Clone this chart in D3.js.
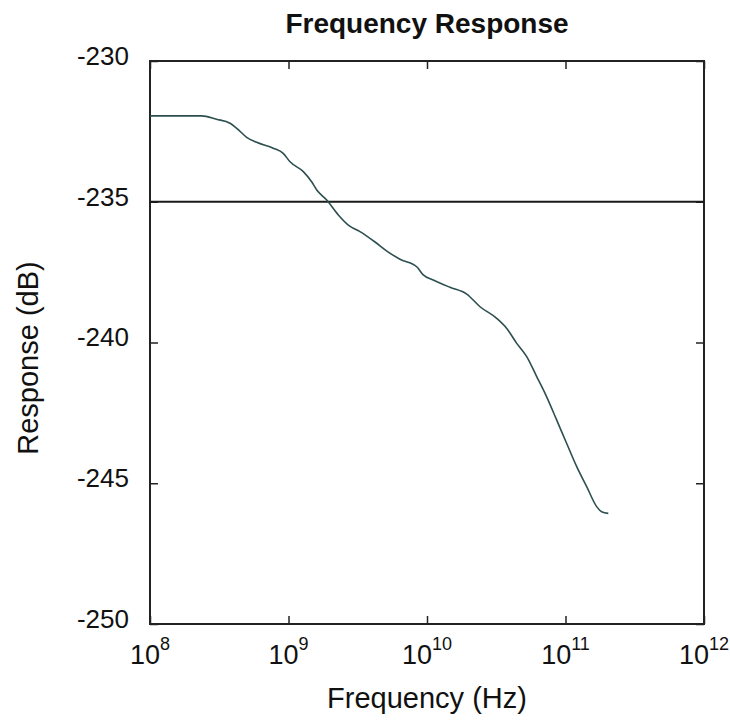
<!DOCTYPE html>
<html>
<head>
<meta charset="utf-8">
<script src="https://cdn.jsdelivr.net/npm/d3@7"></script>
<style>
	body { margin: 0; background: #fff; }
	text { font-family: "Liberation Sans", Arial, sans-serif; fill: #111; }
</style>
</head>
<body>
<div id="chart"></div>
<script>
// Chart size and margins
const width = 730;
const height = 727;
const margin = { top: 61, left: 150, right: 26, bottom: 103 };

// Data: log10 of frequency (Hz) and response (dB)
const logFreq = [8.0, 8.373, 8.48, 8.578, 8.626, 8.698, 8.77, 8.89, 8.962, 9.011, 9.107, 9.167, 9.204, 9.276,
	9.36, 9.432, 9.516, 9.625, 9.718, 9.805, 9.926, 9.973, 10.045, 10.166, 10.287, 10.383, 10.503, 10.576,
	10.648, 10.72, 10.792, 10.864, 10.936, 11.008, 11.081, 11.153, 11.225, 11.261, 11.309];
const responseDb = [-231.95, -231.95, -232.07, -232.21, -232.39, -232.71, -232.89, -233.10, -233.28, -233.58,
	-233.93, -234.29, -234.58, -234.94, -235.47, -235.83, -236.06, -236.43, -236.78, -237.04, -237.31, -237.60,
	-237.78, -238.04, -238.28, -238.73, -239.14, -239.50, -240.03, -240.50, -241.21, -241.93, -242.75, -243.58,
	-244.41, -245.12, -245.83, -246.01, -246.07];

// Reference level line
const thresholdDb = -235;

// Tick labels
const xTickExps = [8, 9, 10, 11, 12];
const yTicks = [-230, -235, -240, -245, -250];

const innerW = width - margin.left - margin.right;
const innerH = height - margin.top - margin.bottom;

const xScale = d3.scaleLog()
	.domain([1e8, 1e12])
	.range([0, innerW]);

const yScale = d3.scaleLinear()
	.domain([-250, -230])
	.range([innerH, 0]);

const svg = d3.select('#chart')
	.append('svg')
	.attr('width', width)
	.attr('height', height);

const g = svg.append('g')
	.attr('transform', `translate(${margin.left}, ${margin.top})`);

// Inward ticks on all four sides
const tickVals = xTickExps.map(e => Math.pow(10, e));
g.append('g')
	.attr('transform', `translate(0, ${innerH})`)
	.call(d3.axisTop(xScale).tickValues(tickVals).tickSize(8).tickFormat(''));
g.append('g')
	.call(d3.axisBottom(xScale).tickValues(tickVals).tickSize(8).tickFormat(''));
g.append('g')
	.call(d3.axisRight(yScale).tickValues(yTicks).tickSize(8).tickFormat(''));
g.append('g')
	.attr('transform', `translate(${innerW}, 0)`)
	.call(d3.axisLeft(yScale).tickValues(yTicks).tickSize(8).tickFormat(''));
g.selectAll('.domain').remove();
g.selectAll('.tick line').attr('stroke', '#222').attr('stroke-width', 1.5);

// Frame
g.append('rect')
	.attr('width', innerW)
	.attr('height', innerH)
	.attr('fill', 'none')
	.attr('stroke', '#222')
	.attr('stroke-width', 2);

// Threshold line
g.append('line')
	.attr('x1', 0)
	.attr('x2', innerW)
	.attr('y1', yScale(thresholdDb))
	.attr('y2', yScale(thresholdDb))
	.attr('stroke', '#1a1a1a')
	.attr('stroke-width', 2);

// Response curve
const points = logFreq.map((lf, i) => [Math.pow(10, lf), responseDb[i]]);
const line = d3.line()
	.x(d => xScale(d[0]))
	.y(d => yScale(d[1]))
	.curve(d3.curveMonotoneX);

g.append('path')
	.datum(points)
	.attr('fill', 'none')
	.attr('stroke', '#2d4f4f')
	.attr('stroke-width', 1.6)
	.attr('d', line);

// Y tick labels
g.selectAll('.ylab')
	.data(yTicks)
	.enter()
	.append('text')
	.attr('class', 'ylab')
	.attr('x', -21)
	.attr('y', d => yScale(d))
	.attr('dy', '0.15em')
	.attr('text-anchor', 'end')
	.style('font-size', '26px')
	.text(d => d);

// X tick labels with superscript exponents
const xlab = g.selectAll('.xlab')
	.data(xTickExps)
	.enter()
	.append('text')
	.attr('class', 'xlab')
	.attr('x', d => xScale(Math.pow(10, d)))
	.attr('y', innerH + 40)
	.attr('text-anchor', 'middle')
	.style('font-size', '27px');
xlab.append('tspan').text('10');
xlab.append('tspan')
	.attr('dy', -14)
	.style('font-size', '18px')
	.text(d => d);

// Title and axis titles
svg.append('text')
	.attr('x', margin.left + innerW / 2)
	.attr('y', 33)
	.attr('text-anchor', 'middle')
	.style('font-size', '28px')
	.style('font-weight', 'bold')
	.text('Frequency Response');

svg.append('text')
	.attr('x', margin.left + innerW / 2)
	.attr('y', 708)
	.attr('text-anchor', 'middle')
	.style('font-size', '29px')
	.text('Frequency (Hz)');

svg.append('text')
	.attr('transform', `translate(38, 358) rotate(-90)`)
	.attr('text-anchor', 'middle')
	.style('font-size', '29px')
	.text('Response (dB)');
</script>
</body>
</html>
